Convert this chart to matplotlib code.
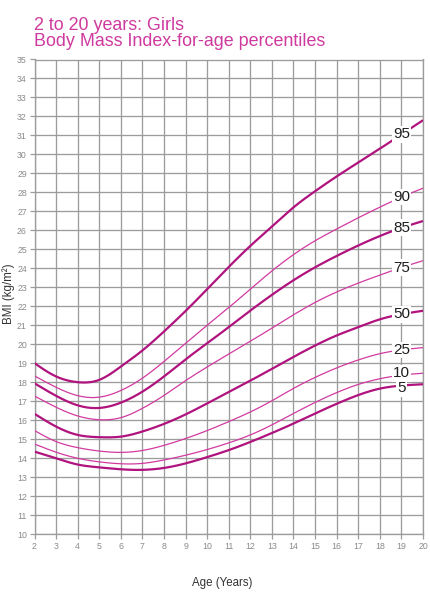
import numpy as np
import matplotlib
matplotlib.use("Agg")
import matplotlib.pyplot as plt

plt.rcParams['font.family'] = ['Liberation Sans', 'DejaVu Sans']

# ---- data ----
ages = [2, 3, 4, 5, 6, 7, 8, 9, 10, 11, 12, 13, 14, 15, 16, 17, 18, 19, 20]
p5  = [14.34, 13.99, 13.66, 13.51, 13.41, 13.38, 13.48, 13.72, 14.05, 14.42, 14.85, 15.32, 15.82, 16.35, 16.86, 17.32, 17.66, 17.82, 17.89]
p10 = [14.74, 14.31, 13.99, 13.80, 13.70, 13.72, 13.90, 14.15, 14.45, 14.80, 15.22, 15.75, 16.35, 16.93, 17.45, 17.88, 18.18, 18.37, 18.47]
p25 = [15.45, 14.87, 14.55, 14.37, 14.30, 14.40, 14.67, 15.03, 15.45, 15.92, 16.43, 17.02, 17.67, 18.25, 18.75, 19.17, 19.50, 19.70, 19.82]
p50 = [16.33, 15.66, 15.22, 15.10, 15.13, 15.40, 15.80, 16.30, 16.88, 17.48, 18.08, 18.70, 19.33, 19.93, 20.46, 20.90, 21.31, 21.58, 21.76]
p75 = [17.27, 16.68, 16.22, 16.02, 16.13, 16.62, 17.30, 18.08, 18.80, 19.48, 20.15, 20.85, 21.55, 22.20, 22.75, 23.22, 23.64, 24.04, 24.40]
p85 = [17.94, 17.28, 16.78, 16.64, 16.92, 17.50, 18.30, 19.20, 20.05, 20.90, 21.77, 22.60, 23.37, 24.05, 24.65, 25.20, 25.70, 26.13, 26.49]
p90 = [18.33, 17.73, 17.29, 17.21, 17.56, 18.21, 19.09, 20.05, 21.00, 21.93, 22.90, 23.86, 24.72, 25.45, 26.07, 26.66, 27.22, 27.75, 28.22]
p95 = [19.00, 18.30, 18.00, 18.12, 18.82, 19.67, 20.67, 21.75, 22.90, 24.07, 25.18, 26.20, 27.21, 28.06, 28.84, 29.57, 30.30, 31.05, 31.80]

curve_names = ['5', '10', '25', '50', '75', '85', '90', '95']
curve_values = [p5, p10, p25, p50, p75, p85, p90, p95]
curve_thick = [True, False, False, True, False, True, False, True]

x_ticks = list(range(2, 21))
y_ticks = list(range(10, 36))

title_lines = ["2 to 20 years: Girls", "Body Mass Index-for-age percentiles"]
x_label = "Age (Years)"
y_label = "BMI (kg/m²)"


def natural_spline(x, y, xs):
    x = np.asarray(x, float)
    y = np.asarray(y, float)
    n = len(x)
    h = np.diff(x)
    A = np.zeros((n, n))
    b = np.zeros(n)
    A[0, 0] = 1
    A[-1, -1] = 1
    for i in range(1, n - 1):
        A[i, i - 1] = h[i - 1]
        A[i, i] = 2 * (h[i - 1] + h[i])
        A[i, i + 1] = h[i]
        b[i] = 3 * ((y[i + 1] - y[i]) / h[i] - (y[i] - y[i - 1]) / h[i - 1])
    c = np.linalg.solve(A, b)
    bb = (y[1:] - y[:-1]) / h - h * (2 * c[:-1] + c[1:]) / 3
    d = (c[1:] - c[:-1]) / (3 * h)
    idx = np.clip(np.searchsorted(x, xs) - 1, 0, n - 2)
    t = xs - x[idx]
    return y[idx] + bb[idx] * t + c[idx] * t ** 2 + d[idx] * t ** 3


W, H = 430, 598
fig = plt.figure(figsize=(W / 100, H / 100), dpi=100)
ax = fig.add_axes([34.5 / W, 1 - 534 / H, (423 - 34.5) / W, (534 - 59.5) / H])

grid_col = '#9c9c9c'
ax.set_xlim(2, 20)
ax.set_ylim(10, 35)
ax.set_xticks(x_ticks)
ax.set_yticks(y_ticks)
ax.set_xticklabels([str(v) for v in x_ticks])
ax.set_yticklabels([str(v) for v in y_ticks])
ax.grid(True, color=grid_col, linewidth=0.95)
ax.set_axisbelow(True)
for s in ax.spines.values():
    s.set_color(grid_col)
    s.set_linewidth(0.95)
ax.tick_params(axis='both', colors=grid_col, labelcolor='#8a8a8a', labelsize=6.3,
               length=3.5, width=0.9, pad=2)

thick_col = '#b0127e'
thin_col = '#d23aa0'
xs = np.linspace(2, 20, 400)
label_offsets = {'10': 0.1, '5': -0.14}
for k, (name, vals, thick) in enumerate(zip(curve_names, curve_values, curve_thick)):
    ys = natural_spline(ages, vals, xs)
    ax.plot(xs, ys, color=thick_col if thick else thin_col,
            lw=1.6 if thick else 0.9, solid_capstyle='butt', zorder=3)
    yl = natural_spline(ages, vals, np.array([19.0]))[0] + label_offsets.get(name, 0.0)
    ax.text(19.0, yl, name, ha='center', va='center', fontsize=11, color='#1e1e1e',
            bbox=dict(facecolor='white', edgecolor='none', pad=1.0), zorder=10 - k)

fig.text(34.5 / W, 1 - 30 / H, title_lines[0], fontsize=12.9, color='#cf3a9e',
         ha='left', va='baseline')
fig.text(34.5 / W, 1 - 46.5 / H, title_lines[1], fontsize=12.9, color='#cf3a9e',
         ha='left', va='baseline')

fig.text(222 / W, 1 - 583 / H, x_label, fontsize=8.3, color='#333333',
         ha='center', va='center')
fig.text(8.5 / W, 1 - 294 / H, y_label, fontsize=8.3, color='#333333',
         ha='center', va='center', rotation=90)

fig.savefig('out.png', dpi=100, facecolor='white')
